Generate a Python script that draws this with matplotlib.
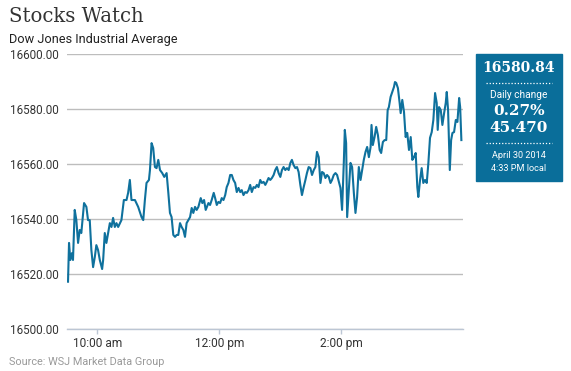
import matplotlib
matplotlib.use("Agg")
import matplotlib.pyplot as plt
from matplotlib.patches import Rectangle
from matplotlib.lines import Line2D

# minutes after the 9:30 open
minutes = [1.0, 2.0, 3.3, 4.9, 5.9, 7.6, 9.2, 10.9, 12.5, 14.1, 16.8, 19.1, 20.7, 22.4, 24.0,
           25.7, 27.4, 28.9, 30.6, 32.3, 34.6, 35.6, 37.2, 38.8, 40.5, 42.2, 43.8, 45.4, 47.1,
           48.7, 50.4, 53.6, 56.0, 58.6, 60.2, 61.9, 63.5, 66.9, 70.1, 73.4, 75.1, 76.7, 78.3,
           80.7, 81.7, 83.3, 84.9, 86.6, 88.2, 89.9, 91.6, 93.8, 95.8, 98.1, 99.8, 101.4, 103.0,
           104.7, 106.4, 108.0, 109.6, 111.3, 112.9, 114.6, 116.2, 117.8, 119.5, 121.2, 122.8,
           124.4, 126.1, 127.7, 129.4, 131.7, 133.3, 135.0, 136.6, 139.3, 140.9, 142.5, 144.5,
           145.9, 147.5, 149.1, 150.8, 152.4, 154.1, 155.8, 157.3, 159.0, 160.7, 162.3, 163.9,
           165.6, 167.2, 168.9, 170.6, 172.1, 173.8, 175.5, 177.1, 178.8, 180.4, 182.0, 183.7,
           185.4, 187.0, 188.6, 190.3, 191.9, 193.6, 195.3, 196.8, 198.5, 200.2, 201.8, 203.5,
           205.1, 206.7, 208.4, 210.1, 211.7, 213.3, 215.0, 216.6, 218.3, 220.0, 221.5, 223.2,
           224.9, 226.5, 228.1, 229.8, 231.4, 233.1, 234.8, 236.3, 238.0, 239.7, 241.3, 243.0,
           244.6, 246.2, 247.9, 249.6, 251.2, 252.8, 254.5, 256.1, 257.8, 259.5, 261.0, 262.7,
           264.4, 266.0, 267.7, 269.3, 270.9, 272.6, 273.6, 274.9, 275.9, 277.5, 279.2, 280.8,
           282.5, 284.1, 285.7, 287.4, 289.1, 290.7, 292.3, 294.0, 295.6, 297.3, 299.0, 299.9,
           301.2, 302.9, 304.5, 306.2, 307.9, 309.4, 311.1, 312.8, 314.4, 315.8, 317.0, 318.7,
           320.3, 322.0, 323.0, 324.2, 325.9, 327.6, 328.6, 330.2, 331.9, 333.5, 335.1, 336.8,
           338.5, 340.1, 341.7, 343.4, 345.0, 346.0, 347.7, 349.3, 350.9, 352.6, 354.3, 355.9,
           357.5, 359.2, 360.8, 362.5, 364.1, 365.1, 366.4, 368.1, 369.7, 371.4, 373.0, 374.0,
           375.3, 377.0, 378.3, 379.6, 381.2, 382.9, 384.5, 386.2, 387.2, 388.4]

values = [16517.2, 16531.3, 16525.1, 16527.6, 16525.1, 16543.3, 16539.6, 16531.3, 16536.0, 16534.9,
          16545.8, 16544.4, 16539.6, 16539.6, 16528.7, 16522.5, 16526.2, 16530.5, 16528.7, 16525.1,
          16521.8, 16525.1, 16534.9, 16531.3, 16534.9, 16538.5, 16537.1, 16540.4, 16537.1, 16538.5,
          16537.1, 16539.6, 16546.9, 16546.9, 16549.5, 16554.2, 16546.9, 16546.9, 16544.4, 16540.7,
          16539.6, 16546.9, 16553.1, 16554.2, 16557.8, 16567.6, 16565.8, 16558.9, 16558.5, 16561.5,
          16557.8, 16556.7, 16555.3, 16556.7, 16549.5, 16542.2, 16540.7, 16534.2, 16533.5, 16534.2,
          16534.2, 16538.5, 16537.1, 16536.0, 16533.5, 16538.5, 16539.6, 16540.7, 16544.0, 16542.2,
          16544.4, 16543.3, 16544.4, 16547.6, 16545.8, 16546.9, 16543.3, 16545.8, 16545.1, 16546.9,
          16549.5, 16547.6, 16545.1, 16546.2, 16545.8, 16547.6, 16546.9, 16548.7, 16551.6, 16553.1,
          16556.0, 16556.0, 16554.2, 16553.1, 16549.8, 16551.3, 16549.8, 16550.5, 16548.7, 16549.8,
          16549.5, 16550.5, 16552.4, 16549.8, 16551.6, 16551.3, 16552.4, 16551.6, 16554.2, 16553.1,
          16553.5, 16552.4, 16553.5, 16554.9, 16554.2, 16554.9, 16556.0, 16557.8, 16558.9, 16556.7,
          16555.3, 16557.8, 16558.9, 16557.8, 16558.5, 16557.8, 16560.4, 16561.5, 16559.6, 16558.5,
          16558.9, 16557.1, 16552.4, 16548.7, 16551.6, 16554.2, 16556.7, 16558.9, 16558.5, 16556.0,
          16557.8, 16558.9, 16564.4, 16562.5, 16553.1, 16557.1, 16556.7, 16554.9, 16556.0, 16555.3,
          16553.1, 16554.2, 16556.0, 16556.7, 16556.0, 16553.5, 16551.3, 16543.3, 16560.4, 16572.4,
          16567.6, 16540.7, 16550.5, 16560.4, 16558.9, 16549.5, 16542.2, 16548.0, 16558.9, 16554.2,
          16557.8, 16561.5, 16564.4, 16566.2, 16562.5, 16566.2, 16574.2, 16566.9, 16569.8, 16573.5,
          16570.5, 16565.1, 16564.0, 16568.0, 16568.7, 16568.7, 16579.6, 16580.7, 16584.4, 16586.2,
          16588.0, 16589.8, 16589.5, 16587.6, 16582.2, 16578.5, 16583.3, 16578.9, 16569.8, 16571.3,
          16565.1, 16569.8, 16561.5, 16562.5, 16564.0, 16551.6, 16548.0, 16554.2, 16558.5, 16553.1,
          16554.2, 16553.1, 16560.4, 16569.5, 16571.6, 16576.0, 16585.8, 16582.2, 16572.4, 16580.7,
          16579.6, 16574.2, 16578.5, 16582.2, 16586.2, 16579.6, 16557.8, 16568.7, 16571.3, 16571.6,
          16576.0, 16575.3, 16584.0, 16580.7, 16568.7]

x_tick_minutes = [30, 150, 270]
x_tick_labels = ["10:00 am", "12:00 pm", "2:00 pm"]
y_ticks = [16500, 16520, 16540, 16560, 16580, 16600]

title = "Stocks Watch"
subtitle = "Dow Jones Industrial Average"
source = "Source: WSJ Market Data Group"
panel_last = "16580.84"
panel_pct = "0.27%"
panel_pts = "45.470"
panel_date = "April 30 2014"
panel_time = "4:33 PM local"

LINE = "#0f719d"
BOX = "#0a6e9a"

W, H = 571, 371
fig = plt.figure(figsize=(W / 100, H / 100), dpi=100)

def fx(px):
    return px / W

def fy(py):
    return 1 - py / H

ax = fig.add_axes([fx(67), fy(329), fx(463) - fx(67), fy(54) - fy(329)])
ax.plot(minutes, values, color=LINE, lw=1.5, solid_joinstyle="round")
ax.set_xlim(0, 390)
ax.set_ylim(16500, 16600)
ax.set_yticks(y_ticks)
ax.set_yticklabels([f"{v:.2f}" for v in y_ticks])
ax.set_xticks(x_tick_minutes)
ax.set_xticklabels(x_tick_labels)
for s in ["top", "right", "left"]:
    ax.spines[s].set_visible(False)
ax.spines["bottom"].set_color("#bcc6d4")
ax.spines["bottom"].set_linewidth(1.0)
ax.grid(axis="y", color="#bdbdbd", lw=1.0)
ax.set_axisbelow(True)
ax.tick_params(axis="y", length=0, pad=6, labelsize=8.4, labelcolor="#333333")
ax.tick_params(axis="x", length=3.5, width=1, color="#bcc6d4", pad=2,
               labelsize=8.6, labelcolor="#333333")
for lab in ax.get_xticklabels() + ax.get_yticklabels():
    lab.set_fontfamily("Roboto")

fig.text(fx(9), fy(17), title, fontsize=14.2, family="DejaVu Serif",
         color="#333333", va="center", ha="left")
fig.text(fx(9), fy(39), subtitle, fontsize=9.2, family="Roboto",
         color="#222222", va="center", ha="left")
fig.text(fx(9), fy(362), source, fontsize=7.8, family="Roboto",
         color="#999999", va="center", ha="left")

# info panel
fig.patches.append(Rectangle((fx(476), fy(181)), fx(562) - fx(476), fy(54) - fy(181),
                             transform=fig.transFigure, color=BOX, zorder=0))
cx = fx(519)
fig.text(cx, fy(67.5), panel_last, fontsize=10, family="DejaVu Serif", weight="bold",
         color="white", ha="center", va="center")
fig.add_artist(Line2D([fx(486), fx(552)], [fy(82.5), fy(82.5)], transform=fig.transFigure,
                      color="white", lw=0.9, ls=(0, (1, 1.5))))
fig.text(cx, fy(94.5), "Daily change", fontsize=7.3, family="Roboto",
         color="white", ha="center", va="center")
fig.text(cx, fy(111), panel_pct, fontsize=11, family="DejaVu Serif", weight="bold",
         color="white", ha="center", va="center")
fig.text(cx, fy(128.5), panel_pts, fontsize=11, family="DejaVu Serif", weight="bold",
         color="white", ha="center", va="center")
fig.add_artist(Line2D([fx(486), fx(552)], [fy(142.5), fy(142.5)], transform=fig.transFigure,
                      color="white", lw=0.9, ls=(0, (1, 1.5))))
fig.text(cx, fy(156), panel_date, fontsize=6.6, family="Roboto",
         color="white", ha="center", va="center")
fig.text(cx, fy(168.5), panel_time, fontsize=6.6, family="Roboto",
         color="white", ha="center", va="center")

fig.savefig("out.png", dpi=100)
